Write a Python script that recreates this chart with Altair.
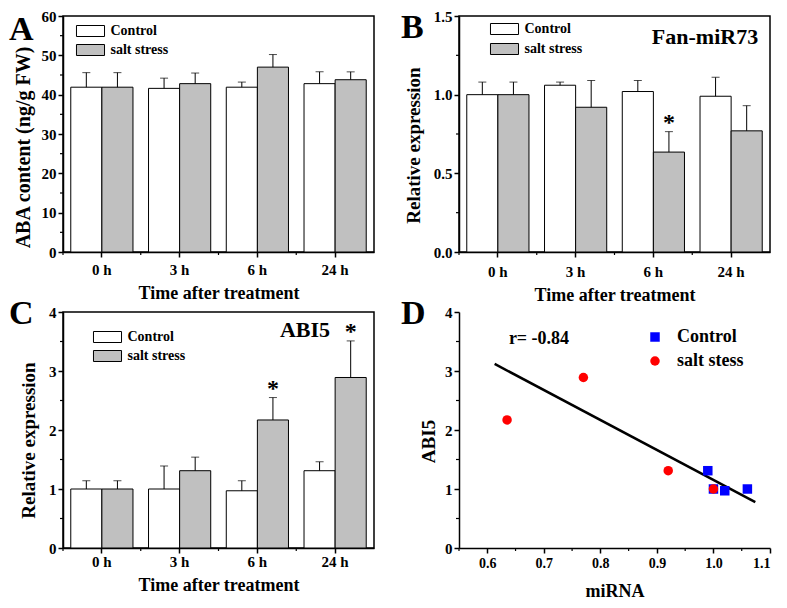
import altair as alt
import pandas as pd

# ---------------- data ----------------
times = ["0 h", "3 h", "6 h", "24 h"]
series_bar = ["Control", "salt stress"]
series_sc = ["Control", "salt stess"]

aba_ctrl = [41.9, 41.6, 41.9, 42.8]
aba_ctrl_err = [45.6, 44.2, 43.2, 45.8]
aba_salt = [41.9, 42.8, 47.0, 43.8]
aba_salt_err = [45.6, 45.5, 50.2, 45.8]

mir_ctrl = [1.0, 1.06, 1.02, 0.99]
mir_ctrl_err = [1.08, 1.08, 1.09, 1.11]
mir_salt = [1.0, 0.92, 0.635, 0.77]
mir_salt_err = [1.08, 1.09, 0.765, 0.93]

abi_ctrl = [1.0, 1.0, 0.97, 1.31]
abi_ctrl_err = [1.14, 1.39, 1.14, 1.46]
abi_salt = [1.0, 1.31, 2.17, 2.89]
abi_salt_err = [1.14, 1.54, 2.55, 3.51]

star_mir = [False, False, True, False]   # salt stress significance
star_abi = [False, False, True, True]

fit_x = [0.613, 1.074]
fit_y = [3.12, 0.777]

aba_ticks = [0, 10, 20, 30, 40, 50, 60]
aba_minor = [5, 15, 25, 35, 45, 55]
mir_ticks = [0.0, 0.5, 1.0, 1.5]
mir_minor = [0.25, 0.75, 1.25]
abi_ticks = [0, 1, 2, 3, 4]
abi_minor = [0.5, 1.5, 2.5, 3.5]
mirna_ticks = [0.6, 0.7, 0.8, 0.9, 1.0, 1.1]
mirna_minor = [0.55, 0.65, 0.75, 0.85, 0.95, 1.05]

FONT = "Liberation Serif"
W, H = 311, 236


def text_layer(txt, x, y, size, align="left"):
    return alt.Chart(pd.DataFrame({"t": [txt]})).mark_text(
        font=FONT, fontSize=size, fontWeight="bold", color="black",
        align=align, baseline="alphabetic"
    ).encode(text="t:N", x=alt.value(x), y=alt.value(y))


def bar_panel(ctrl, ctrl_err, salt, salt_err, stars, domain, ticks, minor, fmt,
              ytitle, ytitle_size, ytitle_pad, ytitle_y, label_pad, xtitle_pad,
              letter, letter_xy, leg_xy, leg_row, note=None, note_xy=None):
    rows = []
    for i, t in enumerate(times):
        rows.append(dict(time=t, series=series_bar[0], value=ctrl[i], err=ctrl_err[i], star=False))
        rows.append(dict(time=t, series=series_bar[1], value=salt[i], err=salt_err[i], star=stars[i]))
    df = pd.DataFrame(rows)
    base = alt.Chart(df)
    xscale = alt.Scale(paddingInner=0.2, paddingOuter=0.1)
    xaxis = alt.Axis(title="Time after treatment", labelAngle=0,
                     labelPadding=label_pad, titlePadding=xtitle_pad)
    x = alt.X("time:N", sort=times, scale=xscale, axis=xaxis)
    xo = alt.XOffset("series:N", sort=series_bar,
                     scale=alt.Scale(paddingInner=0, paddingOuter=0))
    yscale = alt.Scale(domain=domain, nice=False, zero=True)
    yaxis = alt.Axis(values=ticks, format=fmt, title=ytitle, titleY=ytitle_y,
                     titleFontSize=ytitle_size, titlePadding=ytitle_pad)
    bars = base.mark_bar(stroke="black", strokeWidth=1).encode(
        x=x, xOffset=xo,
        y=alt.Y("value:Q", scale=yscale, axis=yaxis),
        fill=alt.Fill("series:N", sort=series_bar,
                      scale=alt.Scale(domain=series_bar, range=["#ffffff", "#c0c0c0"]),
                      legend=alt.Legend(title=None, orient="none",
                                        legendX=leg_xy[0], legendY=leg_xy[1],
                                        symbolType="M-2.55,-1H2.55V1H-2.55Z",
                                        symbolSize=121, symbolOffset=8.5,
                                        symbolStrokeColor="black", symbolStrokeWidth=1,
                                        labelFont=FONT, labelFontSize=14,
                                        labelFontWeight="bold", labelColor="black",
                                        labelOffset=13, rowPadding=leg_row, padding=0)),
    )
    errs = base.mark_rule(color="black", strokeWidth=1).encode(
        x=x, xOffset=xo, y=alt.Y("value:Q", scale=yscale, axis=yaxis), y2="err:Q")
    caps = base.mark_tick(color="black", thickness=1, size=8, orient="horizontal").encode(
        x=x, xOffset=xo, y=alt.Y("err:Q", scale=yscale, axis=yaxis))
    star = base.transform_filter("datum.star").mark_text(
        text="*", font=FONT, fontSize=24, fontWeight="bold", color="black",
        baseline="alphabetic", dy=-2).encode(
        x=x, xOffset=xo, y=alt.Y("err:Q", scale=yscale, axis=yaxis))
    mt = alt.Chart(pd.DataFrame({"m": minor})).mark_rule(color="black", strokeWidth=1.2).encode(
        y=alt.Y("m:Q", scale=yscale, axis=yaxis), x=alt.value(0), x2=alt.value(-3))
    # minor x ticks at the gaps between time groups (half the inner padding before each band)
    gx = alt.Chart(pd.DataFrame({"time": times})).mark_rule(
        color="black", strokeWidth=1.2, xOffset=-W / 40).encode(
        x=alt.X("time:N", sort=times, scale=xscale, axis=xaxis, bandPosition=0),
        y=alt.value(H), y2=alt.value(H + 3))
    layers = [bars, errs, caps, star, mt, gx,
              text_layer(letter, letter_xy[0], letter_xy[1], 34)]
    if note:
        layers.append(text_layer(note, note_xy[0], note_xy[1], 22, align="center"))
    return alt.layer(*layers).properties(width=W, height=H)


A = bar_panel(aba_ctrl, aba_ctrl_err, aba_salt, aba_salt_err, [False] * 4,
              [0, 60], aba_ticks, aba_minor, "d",
              "ABA content (ng/g FW)", 20, 8, H / 2 + 13, 5, 7,
              "A", (-54, 24), (12, 8), 3)
B = bar_panel(mir_ctrl, mir_ctrl_err, mir_salt, mir_salt_err, star_mir,
              [0, 1.5], mir_ticks, mir_minor, ".1f",
              "Relative expression", 19, 10, H / 2 + 11, 7, 7,
              "B", (-58, 22), (30, 6), 4, "Fan-miR73", (246, 28))
C = bar_panel(abi_ctrl, abi_ctrl_err, abi_salt, abi_salt_err, star_abi,
              [0, 4], abi_ticks, abi_minor, "d",
              "Relative expression", 19, 10, H / 2 + 10, 1, 7,
              "C", (-54, 12), (29, 18), 3, "ABI5", (242, 25))

# ---------------- panel D ----------------
sc_rows = []
for i in range(4):
    sc_rows.append(dict(series=series_sc[0], mirna=mir_ctrl[i], abi5=abi_ctrl[i]))
for i in range(4):
    sc_rows.append(dict(series=series_sc[1], mirna=mir_salt[i], abi5=abi_salt[i]))
sc_df = pd.DataFrame(sc_rows)
fit_df = pd.DataFrame({"mirna": fit_x, "abi5": fit_y})

xs = alt.Scale(domain=[0.55, 1.1], nice=False, zero=False)
ys = alt.Scale(domain=[0, 4], nice=False)
dxaxis = alt.Axis(values=mirna_ticks, format=".1f", title="miRNA",
                  labelFontSize=14, labelPadding=3, titlePadding=12)
dyaxis = alt.Axis(values=abi_ticks, format="d", title="ABI5", titleY=H / 2 + 11,
                  titleFontSize=19, titlePadding=6)
dleg = alt.Legend(title=None, orient="none", legendX=187, legendY=16,
                  labelFont=FONT, labelFontSize=18, labelFontWeight="bold",
                  labelColor="black", labelOffset=13, rowPadding=6, padding=0,
                  symbolSize=90, symbolStrokeWidth=0, symbolOpacity=1)
pts = alt.Chart(sc_df).mark_point(filled=True, opacity=1, size=90).encode(
    x=alt.X("mirna:Q", scale=xs, axis=dxaxis),
    y=alt.Y("abi5:Q", scale=ys, axis=dyaxis),
    color=alt.Color("series:N", sort=series_sc,
                    scale=alt.Scale(domain=series_sc, range=["#0000ff", "#ff0000"]),
                    legend=dleg),
    shape=alt.Shape("series:N", sort=series_sc,
                    scale=alt.Scale(domain=series_sc, range=["square", "circle"]),
                    legend=dleg),
)
fit = alt.Chart(fit_df).mark_line(color="black", strokeWidth=2.5).encode(
    x=alt.X("mirna:Q", scale=xs, axis=dxaxis), y=alt.Y("abi5:Q", scale=ys, axis=dyaxis))
dmy = alt.Chart(pd.DataFrame({"m": abi_minor})).mark_rule(color="black", strokeWidth=1.2).encode(
    y=alt.Y("m:Q", scale=ys, axis=dyaxis), x=alt.value(0), x2=alt.value(-3))
dmx = alt.Chart(pd.DataFrame({"m": mirna_minor})).mark_rule(color="black", strokeWidth=1.2).encode(
    x=alt.X("m:Q", scale=xs, axis=dxaxis), y=alt.value(H), y2=alt.value(H + 3))
D = alt.layer(fit, pts, dmy, dmx,
              text_layer("D", -58, 12, 34),
              text_layer("r= -0.84", 80, 32, 18, align="center")).properties(
    width=W, height=H, view=alt.ViewBackground(stroke="transparent"))

chart = alt.concat(A, B, C, D, columns=2, spacing={"column": 85, "row": 60},
                   bounds="flush").resolve_scale(
    fill="independent", color="independent", shape="independent",
    x="independent", y="independent").configure(
    padding=0, background="white").configure_view(
    stroke="black", strokeWidth=1.5).configure_axis(
    labelFont=FONT, labelFontWeight="bold", labelColor="black", labelFontSize=15,
    titleFont=FONT, titleFontWeight="bold", titleColor="black", titleFontSize=18,
    domainColor="black", domainWidth=1.5, tickColor="black", tickWidth=1.5,
    tickSize=5, grid=False)

chart.save("out.html", embed_options={"renderer": "svg", "actions": False})
